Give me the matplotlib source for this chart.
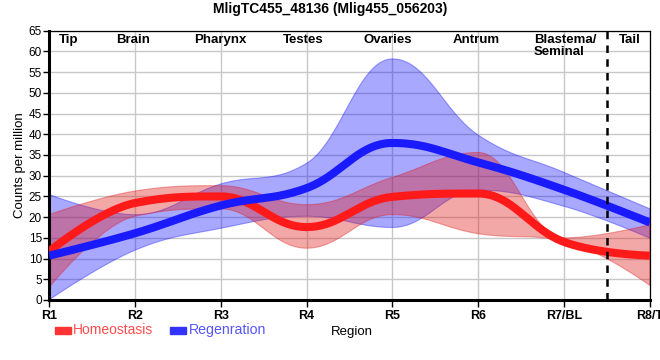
import numpy as np
import matplotlib.pyplot as plt
from matplotlib.patches import Rectangle
from matplotlib.transforms import blended_transform_factory

plt.rcParams['font.family'] = ['Liberation Sans', 'DejaVu Sans']

regions = ["R1", "R2", "R3", "R4", "R5", "R6", "R7/BL", "R8/T"]
homeo = [11.7, 23.4, 25.0, 17.6, 24.9, 25.7, 14.0, 10.7]
homeo_hi = [20.6, 26.3, 27.6, 23.0, 29.6, 35.6, 15.0, 18.2]
homeo_lo = [3.0, 20.2, 22.0, 12.5, 20.6, 16.0, 14.2, 3.5]
regen = [10.7, 16.1, 22.8, 27.0, 37.9, 33.2, 26.6, 18.7]
regen_hi = [25.5, 20.6, 28.0, 33.0, 58.2, 39.8, 30.8, 22.0]
regen_lo = [0.0, 12.0, 17.3, 20.2, 17.5, 26.5, 22.6, 14.9]

top_labels = ["Tip", "Brain", "Pharynx", "Testes", "Ovaries", "Antrum"]
top_pos = [0.23, 0.98, 1.99, 2.96, 3.95, 4.98]


def spline(ys, n=40):
    # smooth curve through the points, same control point rule as a highcharts spline
    xs = np.arange(len(ys), dtype=float)
    ys = np.asarray(ys, dtype=float)
    lc = [(x, y) for x, y in zip(xs, ys)]
    rc = [(x, y) for x, y in zip(xs, ys)]
    s, d = 1.5, 2.5
    for i in range(1, len(ys) - 1):
        x, y = xs[i], ys[i]
        lx, ly = (s * x + xs[i - 1]) / d, (s * y + ys[i - 1]) / d
        rx, ry = (s * x + xs[i + 1]) / d, (s * y + ys[i + 1]) / d
        corr = (ry - ly) * (rx - x) / (rx - lx) + y - ry
        ly += corr
        ry += corr
        if ly > ys[i - 1] and ly > y:
            ly = max(ys[i - 1], y)
            ry = 2 * y - ly
        elif ly < ys[i - 1] and ly < y:
            ly = min(ys[i - 1], y)
            ry = 2 * y - ly
        if ry > ys[i + 1] and ry > y:
            ry = max(ys[i + 1], y)
            ly = 2 * y - ry
        elif ry < ys[i + 1] and ry < y:
            ry = min(ys[i + 1], y)
            ly = 2 * y - ry
        lc[i] = (lx, ly)
        rc[i] = (rx, ry)
    t = np.linspace(0, 1, n)[:, None]
    out = [np.array([[xs[0], ys[0]]])]
    for i in range(1, len(ys)):
        p0 = np.array([xs[i - 1], ys[i - 1]])
        p1 = np.array(rc[i - 1])
        p2 = np.array(lc[i])
        p3 = np.array([xs[i], ys[i]])
        seg = ((1 - t) ** 3) * p0 + 3 * ((1 - t) ** 2) * t * p1 + 3 * (1 - t) * t ** 2 * p2 + t ** 3 * p3
        out.append(seg[1:])
    pts = np.vstack(out)
    return pts[:, 0], pts[:, 1]


fig = plt.figure(figsize=(6.6, 3.6), dpi=100)
ax = fig.add_axes([49 / 660, 60 / 360, 601 / 660, 269.3 / 360])

for hi, lo, col in [(regen_hi, regen_lo, (0, 0, 1, 0.34)),
                    (homeo_hi, homeo_lo, (0.88, 0.1, 0.1, 0.38))]:
    xh, yh = spline(hi)
    xl, yl = spline(lo)
    ax.fill(np.concatenate([xh, xl[::-1]]), np.concatenate([yh, yl[::-1]]),
            color=col, lw=0.8, zorder=2)

x, y = spline(homeo)
ax.plot(x, y, color="#ff1a1a", lw=5.8, solid_capstyle="butt", zorder=3)
x, y = spline(regen)
ax.plot(x, y, color="#1a1aff", lw=5.8, solid_capstyle="butt", zorder=4)

ax.axvline(6.5, color="black", lw=1.8, ls=(0, (3, 2.5)), zorder=5)

ax.set_xlim(0, 7)
ax.set_ylim(0, 65)
ax.set_xticks(range(len(regions)))
ax.set_xticklabels(regions, fontweight="bold", fontsize=9)
ax.set_yticks(np.arange(0, 66, 5))
ax.tick_params(axis="y", labelsize=8.5, length=4, width=1, pad=1)
ax.tick_params(axis="x", length=5, width=1, pad=2)
ax.grid(color="#c8c8c8", lw=1, zorder=0)
ax.set_axisbelow(True)
for side in ["left", "bottom"]:
    ax.spines[side].set_linewidth(2.2)
for side in ["top", "right"]:
    ax.spines[side].set_linewidth(0.9)

tr = blended_transform_factory(ax.transData, ax.transAxes)
for lab, p in zip(top_labels, top_pos):
    ax.text(p, 0.988, lab, transform=tr, ha="center", va="top",
            fontweight="bold", fontsize=9.5, zorder=6)
ax.text(5.65, 0.988, "Blastema/\nSeminal", transform=tr, ha="left", va="top",
        fontweight="bold", fontsize=9.5, linespacing=1.05, zorder=6)
ax.text(6.77, 0.988, "Tail", transform=tr, ha="center", va="top",
        fontweight="bold", fontsize=9.5, zorder=6)

ax.set_ylabel("Counts per million", fontsize=9.5, labelpad=2)
fig.text(330 / 660, 1 - 9 / 360, "MligTC455_48136 (Mlig455_056203)",
         ha="center", va="center", fontweight="bold", fontsize=10)
fig.text(331 / 660, 1 - 332 / 360, "Region", ha="left", va="center", fontsize=9.5)

fig.patches.append(Rectangle((55 / 660, 1 - 333.5 / 360), 15.5 / 660, 7 / 360,
                             transform=fig.transFigure, color="#ff3333"))
fig.text(73 / 660, 1 - 330 / 360, "Homeostasis", ha="left", va="center",
         fontsize=10, color="#ff4d4d")
fig.patches.append(Rectangle((170 / 660, 1 - 333.5 / 360), 15.5 / 660, 7 / 360,
                             transform=fig.transFigure, color="#3333ff"))
fig.text(189 / 660, 1 - 330 / 360, "Regenration", ha="left", va="center",
         fontsize=10.2, color="#5555ff")

fig.savefig("out.png", dpi=100)
